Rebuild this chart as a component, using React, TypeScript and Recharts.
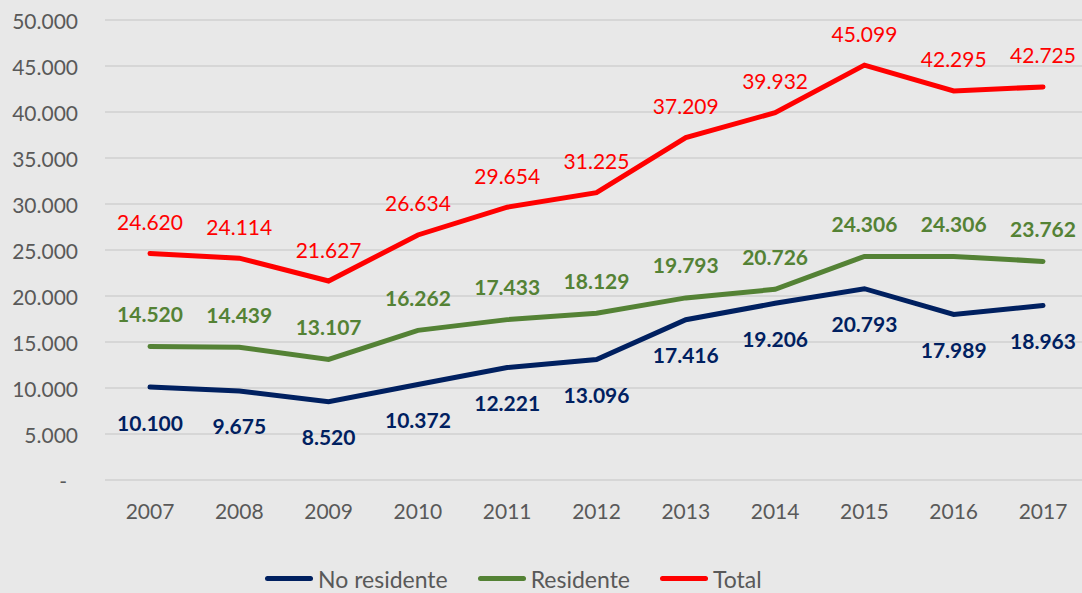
import { CartesianGrid, LabelList, Legend, Line, LineChart, XAxis, YAxis } from "recharts";

const years = ["2007", "2008", "2009", "2010", "2011", "2012", "2013", "2014", "2015", "2016", "2017"];
const noResidente = [10100, 9675, 8520, 10372, 12221, 13096, 17416, 19206, 20793, 17989, 18963];
const residente = [14520, 14439, 13107, 16262, 17433, 18129, 19793, 20726, 24306, 24306, 23762];
const total = [24620, 24114, 21627, 26634, 29654, 31225, 37209, 39932, 45099, 42295, 42725];
const yTicks = [0, 5000, 10000, 15000, 20000, 25000, 30000, 35000, 40000, 45000, 50000];

const data = years.map((year, i) => ({
  year,
  noResidente: noResidente[i],
  residente: residente[i],
  total: total[i],
}));

const FONT = "Lato, 'Open Sans', sans-serif";
const TEXT = "#595959";
const NAVY = "#002060";
const GREEN = "#548235";
const RED = "#FF0000";

const fmt = (v: number) => (v === 0 ? "-" : v.toLocaleString("de-DE"));

function YTick({ x, y, payload }: any) {
  const v = payload.value as number;
  return (
    <text
      x={x - (v === 0 ? 11 : 0)}
      y={y}
      textAnchor="end"
      dominantBaseline="central"
      fill={TEXT}
      fontSize={21}
      fontFamily={FONT}
    >
      {fmt(v)}
    </text>
  );
}

function XTick({ x, y, payload }: any) {
  return (
    <text x={x} y={y + 22} textAnchor="middle" dominantBaseline="central" fill={TEXT} fontSize={21} fontFamily={FONT}>
      {payload.value}
    </text>
  );
}

const makeLabel =
  (color: string, dy: number, bold: boolean) =>
  ({ x, y, value }: any) => (
    <text
      x={x}
      y={y + dy}
      textAnchor="middle"
      dominantBaseline="central"
      fill={color}
      fontSize={21}
      fontWeight={bold ? 700 : 400}
      fontFamily={FONT}
    >
      {fmt(value)}
    </text>
  );

const legendItems = [
  { name: "No residente", color: NAVY },
  { name: "Residente", color: GREEN },
  { name: "Total", color: RED },
];

function LegendBox() {
  return (
    <div style={{ height: 53, display: "flex", alignItems: "flex-end", paddingLeft: 265, boxSizing: "border-box" }}>
      {legendItems.map((it, i) => (
        <div key={it.name} style={{ display: "flex", alignItems: "center", height: 29, marginLeft: i === 0 ? 0 : 30 }}>
          <div style={{ width: 48, height: 5, borderRadius: 3, background: it.color }} />
          <span style={{ marginLeft: 5, fontFamily: FONT, fontSize: 23, color: TEXT, lineHeight: "28px" }}>{it.name}</span>
        </div>
      ))}
    </div>
  );
}

export default function App() {
  return (
    <div style={{ position: "fixed", top: 0, left: 0, width: 1082, height: 593, overflow: "hidden", background: "#E8E8E8" }}>
      <LineChart width={1092} height={593} data={data} margin={{ top: 20, right: 4, left: 0, bottom: 0 }}>
        <CartesianGrid vertical={false} stroke="#D6D6D6" strokeWidth={2} />
        <XAxis
          dataKey="year"
          axisLine={false}
          tickLine={false}
          height={60}
          tick={<XTick />}
          interval={0}
          padding={{ left: 45, right: 45 }}
        />
        <YAxis
          domain={[0, 50000]}
          ticks={yTicks}
          axisLine={false}
          tickLine={false}
          width={105}
          tick={<YTick />}
          tickMargin={21}
          interval={0}
        />
        <Legend verticalAlign="bottom" height={53} content={<LegendBox />} />
        <Line dataKey="noResidente" name="No residente" stroke={NAVY} strokeWidth={5} dot={false} strokeLinecap="round" isAnimationActive={false}>
          <LabelList dataKey="noResidente" content={makeLabel(NAVY, 35, true)} />
        </Line>
        <Line dataKey="residente" name="Residente" stroke={GREEN} strokeWidth={5} dot={false} strokeLinecap="round" isAnimationActive={false}>
          <LabelList dataKey="residente" content={makeLabel(GREEN, -33, true)} />
        </Line>
        <Line dataKey="total" name="Total" stroke={RED} strokeWidth={5} dot={false} strokeLinecap="round" isAnimationActive={false}>
          <LabelList dataKey="total" content={makeLabel(RED, -32, false)} />
        </Line>
      </LineChart>
    </div>
  );
}
